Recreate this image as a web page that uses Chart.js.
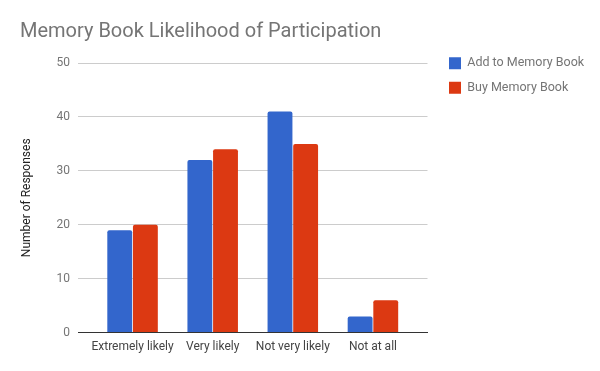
<!DOCTYPE html>
<html>
<head>
<meta charset="utf-8">
<script src="https://cdn.jsdelivr.net/npm/chart.js@4.4.1/dist/chart.umd.min.js"></script>
<style>
  html, body { margin: 0; padding: 0; background: #fff; }
  #wrap { width: 600px; height: 371px; }
</style>
</head>
<body>
<div id="wrap"><canvas id="chart"></canvas></div>
<script>
const categories = ['Extremely likely', 'Very likely', 'Not very likely', 'Not at all']
const addToBook = [19, 32, 41, 3]
const buyBook = [20, 34, 35, 6]
const yTicks = [0, 10, 20, 30, 40, 50]

Chart.defaults.font.family = 'Roboto, "Noto Sans", sans-serif'
Chart.defaults.color = '#757575'

// give the legend a bit more room, nudge it into place,
// and pull the category band in from the plot edges like the original
const legendSpot = {
  id: 'legendSpot',
  beforeLayout(chart) {
    const lg = chart.legend
    if (!lg || lg._wider) return
    const fit = lg.fit.bind(lg)
    lg.fit = function () {
      fit()
      this.width += 20
    }
    lg._wider = true
  },
  afterLayout(chart) {
    const lg = chart.legend
    if (lg) {
      lg.top = 45
      lg.left = 437
    }
    const xs = chart.scales.x
    const inset = 14.5
    xs._startPixel = xs.left + inset
    xs._length = xs.width - inset * 2
  },
}

new Chart(document.getElementById('chart'), {
  type: 'bar',
  data: {
    labels: categories,
    datasets: [
      {
        label: 'Add to Memory Book',
        data: addToBook,
        backgroundColor: '#3366cc',
        borderRadius: 2,
        borderSkipped: 'bottom',
        barPercentage: 0.97,
        categoryPercentage: 0.64,
      },
      {
        label: 'Buy Memory Book',
        data: buyBook,
        backgroundColor: '#dc3912',
        borderRadius: 2,
        borderSkipped: 'bottom',
        barPercentage: 0.97,
        categoryPercentage: 0.64,
      },
    ],
  },
  options: {
    responsive: true,
    maintainAspectRatio: false,
    animation: false,
    layout: { padding: { left: 20, right: 10, top: 0, bottom: 10 } },
    plugins: {
      title: {
        display: true,
        text: 'Memory Book Likelihood of Participation',
        align: 'start',
        color: '#757575',
        font: { size: 20, weight: 'normal' },
        padding: { top: 20, bottom: 19 },
      },
      legend: {
        position: 'right',
        align: 'start',
        labels: {
          boxWidth: 12,
          boxHeight: 12,
          padding: 12,
          color: '#757575',
          font: { size: 12.5 },
        },
      },
      tooltip: { enabled: false },
    },
    scales: {
      x: {
        grid: { display: false, drawTicks: false },
        border: { color: '#333', width: 1 },
        ticks: {
          color: '#444',
          font: { size: 12 },
          padding: 7,
          minRotation: 0,
          maxRotation: 0,
          autoSkip: false,
        },
      },
      y: {
        min: 0,
        max: 50,
        afterBuildTicks: (s) => { s.ticks = yTicks.map((v) => ({ value: v })) },
        afterFit: (s) => { s.width = 58 },
        border: { display: false },
        grid: {
          color: (c) => (c.tick && c.tick.value === 0 ? '#333' : '#ccc'),
          drawTicks: false,
        },
        ticks: { color: '#757575', font: { size: 12 }, padding: 8 },
        title: {
          display: true,
          text: 'Number of Responses',
          color: '#222',
          font: { size: 12 },
          padding: 0,
        },
      },
    },
  },
  plugins: [legendSpot],
})
</script>
</body>
</html>
